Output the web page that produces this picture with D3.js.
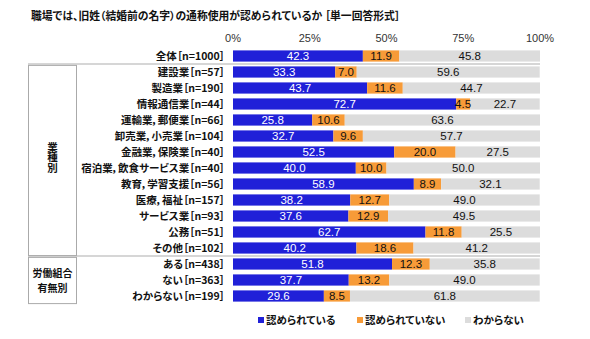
<!DOCTYPE html>
<html lang="ja">
<head>
<meta charset="UTF-8" />
<title>旧姓の通称使用</title>
<script src="https://d3js.org/d3.v7.min.js"></script>
<style>
  body { margin: 0; background: #fff; }
  svg { display: block; }
  .jp { font-family: "Noto Sans CJK JP", sans-serif; font-feature-settings: "palt"; font-weight: bold; fill: #111; }
  .tick-label { font-family: "Liberation Sans", Arial, sans-serif; font-size: 11px; fill: #333; }
  .val { font-family: "Liberation Sans", Arial, sans-serif; font-size: 11.5px; }
</style>
</head>
<body>
<svg width="590" height="339"></svg>
<script>
  const categories = [
    "全体［n=1000］",
    "建設業［n=57］", "製造業［n=190］", "情報通信業［n=44］", "運輸業，郵便業［n=66］",
    "卸売業，小売業［n=104］", "金融業，保険業［n=40］", "宿泊業，飲食サービス業［n=40］",
    "教育，学習支援［n=56］", "医療，福祉［n=157］", "サービス業［n=93］", "公務［n=51］",
    "その他［n=102］",
    "ある［n=438］", "ない［n=363］", "わからない［n=199］"
  ];
  const allowed    = [42.3, 33.3, 43.7, 72.7, 25.8, 32.7, 52.5, 40.0, 58.9, 38.2, 37.6, 62.7, 40.2, 51.8, 37.7, 29.6];
  const notAllowed = [11.9, 7.0, 11.6, 4.5, 10.6, 9.6, 20.0, 10.0, 8.9, 12.7, 12.9, 11.8, 18.6, 12.3, 13.2, 8.5];
  const unknown    = [45.8, 59.6, 44.7, 22.7, 63.6, 57.7, 27.5, 50.0, 32.1, 49.0, 49.5, 25.5, 41.2, 35.8, 49.0, 61.8];
  const seriesNames = ["認められている", "認められていない", "わからない"];
  const colors = ["#2020d8", "#f79b38", "#dcdcdc"];
  const ticks = [0, 25, 50, 75, 100];

  const svg = d3.select("svg");

  const x = d3.scaleLinear().domain([0, 100]).range([233, 540]);
  const y = d3.scaleBand().domain(categories).range([48, 304]).paddingInner(0.3).paddingOuter(0.15);

  // タイトル
  svg.append("text").attr("class", "jp")
    .attr("x", 31).attr("y", 20).style("font-size", "10.8px")
    .text("職場では、旧姓（結婚前の名字）の通称使用が認められているか ［単一回答形式］");

  // 目盛ラベル
  svg.selectAll(".tick-label").data(ticks).enter().append("text")
    .attr("class", "tick-label")
    .attr("x", d => x(d)).attr("y", 42)
    .attr("text-anchor", "middle")
    .text(d => d + "%");

  // 積み上げ
  const rows = categories.map((c, i) => {
    const v = [allowed[i], notAllowed[i], unknown[i]];
    let acc = 0;
    return v.map((val, k) => {
      const seg = { cat: c, k, val, x0: acc, x1: acc + val };
      acc += val;
      return seg;
    });
  }).flat();

  svg.append("g").selectAll("rect").data(rows).enter().append("rect")
    .attr("x", d => x(d.x0))
    .attr("y", d => y(d.cat))
    .attr("width", d => x(d.x1) - x(d.x0))
    .attr("height", y.bandwidth())
    .attr("fill", d => colors[d.k]);

  svg.append("g").selectAll("text").data(rows).enter().append("text")
    .attr("class", "val")
    .attr("x", d => x((d.x0 + d.x1) / 2))
    .attr("y", d => y(d.cat) + y.bandwidth() / 2 + 4)
    .attr("text-anchor", "middle")
    .attr("fill", d => d.k === 0 ? "#fff" : "#111")
    .text(d => d.val.toFixed(1));

  // カテゴリ名
  svg.append("g").selectAll("text").data(categories).enter().append("text")
    .attr("class", "jp")
    .attr("x", 225)
    .attr("y", d => y(d) + y.bandwidth() / 2 + 4)
    .attr("text-anchor", "end")
    .style("font-size", "10.5px")
    .text(d => d);

  // 区切り線
  const sepY = [
    (y(categories[0]) + y.bandwidth() + y(categories[1])) / 2,
    (y(categories[12]) + y.bandwidth() + y(categories[13])) / 2
  ];
  svg.selectAll(".sep").data(sepY).enter().append("line")
    .attr("x1", 28).attr("x2", 540)
    .attr("y1", d => d).attr("y2", d => d)
    .attr("stroke", "#c8c8c8").attr("stroke-width", 1.5);

  // グループ枠
  const groupBox = (from, to) => {
    const top = y(categories[from]) - 1;
    const bottom = y(categories[to]) + y.bandwidth() + 2;
    svg.append("rect")
      .attr("x", 28.5).attr("y", top)
      .attr("width", 48).attr("height", bottom - top)
      .attr("fill", "none").attr("stroke", "#aaa").attr("stroke-width", 1);
    return (top + bottom) / 2;
  };

  // 業種別（縦書き）
  const cy1 = groupBox(1, 12);
  svg.append("text").attr("class", "jp")
    .attr("x", 52.5).attr("y", cy1 - 3)
    .attr("text-anchor", "middle")
    .style("writing-mode", "vertical-rl")
    .style("font-size", "10.5px")
    .text("業種別");

  // 労働組合有無別（2行）
  const cy2 = groupBox(13, 15);
  const unionLines = ["労働組合", "有無別"];
  svg.append("g").selectAll("text").data(unionLines).enter().append("text")
    .attr("class", "jp")
    .attr("x", 52.5)
    .attr("y", (d, i) => cy2 + (i - 0.5) * 14.5 + 4)
    .attr("text-anchor", "middle")
    .style("font-size", "10px")
    .text(d => d);

  // 凡例
  const legendX = [258, 357, 465];
  const legend = svg.append("g").selectAll("g").data(seriesNames).enter().append("g")
    .attr("transform", (d, i) => `translate(${legendX[i]},320)`);
  legend.append("rect").attr("x", 0).attr("y", -3).attr("width", 6).attr("height", 6)
    .attr("fill", (d, i) => colors[i]);
  legend.append("text").attr("class", "jp")
    .attr("x", 8).attr("y", 4)
    .style("font-size", "10.5px")
    .text(d => d);
</script>
</body>
</html>
